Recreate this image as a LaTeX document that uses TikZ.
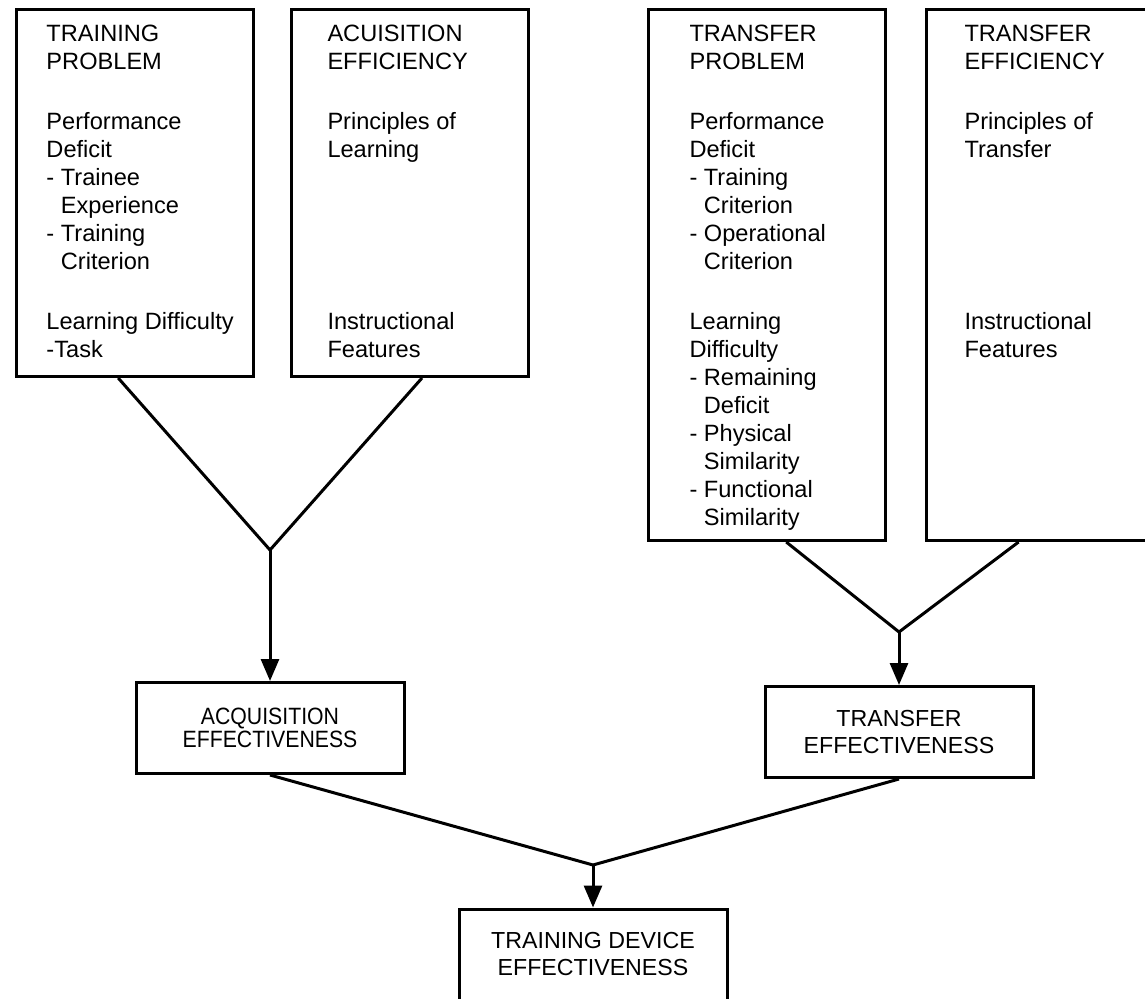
\documentclass[tikz,border=0pt]{standalone}
\usepackage{fontspec}
\setmainfont{Liberation Sans}
\newfontfamily\narrowfont{Liberation Sans}[FakeStretch=0.9]
\usetikzlibrary{arrows.meta,calc}

\newcommand{\ind}{\hphantom{-~}}

\tikzset{
    topbox/.style={draw, anchor=north west, inner sep=0pt, minimum width=118.5pt},
    toptext/.style={anchor=north west, align=left, inner sep=0pt,
        font=\fontsize{11.8}{14}\selectfont},
    effbox/.style={draw, align=center, minimum width=134pt, minimum height=45.5pt,
        font=\fontsize{11.6}{13.5}\selectfont},
    arr/.style={-{Triangle[length=11pt,width=9pt]}}
}

\begin{document}
\begin{tikzpicture}[x=0.5pt,y=-0.5pt,line width=1.5pt]
\useasboundingbox (0,0) rectangle (1145,999);
\clip (0,0) rectangle (1145,999);
    %top boxes
    \foreach \nm/\x/\h in {tp/15/183.5,ae/290/183.5,fp/647/265.5,fe/925/265.5}
        \node[topbox, minimum height=\h pt] (\nm) at (\x,8) {};
    %texts
    \node[toptext] (tptxt) at ([shift={(30,16)}]tp.north west)
        {TRAINING\\PROBLEM\\[16pt]Performance\\Deficit\\- Trainee\\\ind Experience\\- Training\\\ind Criterion\\[16pt]Learning Difficulty\\-Task};
    \node[toptext] (aetxt) at ([shift={(36,16)}]ae.north west)
        {ACUISITION\\EFFICIENCY\\[16pt]Principles of\\Learning\\[72pt]Instructional\\Features};
    \node[toptext] (fptxt) at ([shift={(41,16)}]fp.north west)
        {TRANSFER\\PROBLEM\\[16pt]Performance\\Deficit\\- Training\\\ind Criterion\\- Operational\\\ind Criterion\\[16pt]Learning\\Difficulty\\- Remaining\\\ind Deficit\\- Physical\\\ind Similarity\\- Functional\\\ind Similarity};
    \node[toptext] (fetxt) at ([shift={(38,16)}]fe.north west)
        {TRANSFER\\EFFICIENCY\\[16pt]Principles of\\Transfer\\[72pt]Instructional\\Features};
    %effectiveness
    \node[effbox, font=\narrowfont\fontsize{11.8}{11.5}\selectfont] (acq) at (270,728) {ACQUISITION\\EFFECTIVENESS};
    \node[effbox] (te) at (899,732) {TRANSFER\\EFFECTIVENESS};
    \node[effbox] (tde) at (593,954.5) {TRAINING DEVICE\\EFFECTIVENESS};
    %joins
    \coordinate (v1) at (acq.north |- 0,550);
    \coordinate (v2) at (te.north |- 0,632);
    \coordinate (v3) at (tde.north |- 0,865);
    \draw ($(tp.south west)!0.43!(tp.south east)$) -- (v1) -- ($(ae.south west)!0.55!(ae.south east)$);
    \draw ($(fp.south west)!0.58!(fp.south east)$) -- (v2) -- ($(fe.south west)!0.39!(fe.south east)$);
    \draw (acq.south) -- (v3) -- (te.south);
    %arrows
    \draw[arr] (v1) -- (acq);
    \draw[arr] (v2) -- (te);
    \draw[arr] (v3) -- (tde);
\end{tikzpicture}
\end{document}
